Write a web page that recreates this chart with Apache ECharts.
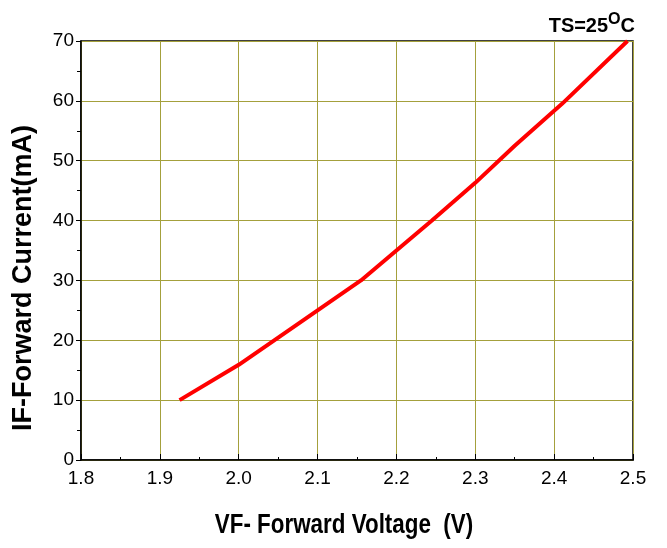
<!DOCTYPE html>
<html><head><meta charset="utf-8">
<script src="https://cdn.jsdelivr.net/npm/echarts@6/dist/echarts.min.js"></script>
<style>html,body{margin:0;padding:0;background:#fff}#c{width:667px;height:548px}</style>
</head><body><div id="c"></div>
<script>
var voltage = [1.925, 2.0, 2.045, 2.1, 2.155, 2.2, 2.245, 2.3, 2.35, 2.41, 2.493];
var current = [10, 15.9, 20, 25, 30, 35, 40, 46.3, 52.5, 59.5, 70];
var xTicks = [1.8, 2.5, 0.1];
var yTicks = [0, 70, 10];
var xTitle = 'VF- Forward Voltage  (V)';
var yTitle = 'IF-Forward Current(mA)';
var data = voltage.map(function(v,i){return [v,current[i]];});
var font = 'Liberation Sans';
var chart = echarts.init(document.getElementById('c'));
chart.setOption({
  animation:false,
  grid:{left:81,right:34,top:41,bottom:88,show:true,borderColor:'#000',borderWidth:1.5,containLabel:false,outerBoundsMode:'none'},
  graphic:[
    {type:'text',x:344,y:525,scaleX:0.8,style:{text:xTitle,font:'bold 28px "Liberation Sans"',fill:'#000',textAlign:'center',textVerticalAlign:'middle'}},
    {type:'text',x:24,y:278,rotation:Math.PI/2,style:{text:yTitle,font:'bold 27px "Liberation Sans"',fill:'#000',textAlign:'center',textVerticalAlign:'middle'}},
    {type:'text',x:635,y:22,scaleX:0.95,style:{text:'{a|TS=25}{b|O}{a|C}',textAlign:'right',textVerticalAlign:'middle',rich:{
      a:{fontFamily:font,fontWeight:'bold',fontSize:21,fill:'#000',padding:[9,0,0,0]},
      b:{fontFamily:font,fontWeight:'bold',fontSize:17,fill:'#000',padding:[0,0,6,0]}}}}
  ],
  xAxis:{type:'value',min:xTicks[0],max:xTicks[1],interval:xTicks[2],
    axisLine:{lineStyle:{color:'#000',width:1.5}},
    axisTick:{inside:true,length:6,lineStyle:{color:'#000'}},
    minorTick:{show:true,splitNumber:2,length:3,lineStyle:{color:'#000'}},
    axisLabel:{fontFamily:font,fontSize:19,color:'#000',margin:9,formatter:function(v){return v.toFixed(1);}},
    splitLine:{show:true,lineStyle:{color:'#a4a03c',width:1}}},
  yAxis:{type:'value',min:yTicks[0],max:yTicks[1],interval:yTicks[2],
    axisLine:{show:true,lineStyle:{color:'#000',width:1.5}},
    axisTick:{show:true,inside:false,length:5,lineStyle:{color:'#000'}},
    minorTick:{show:true,splitNumber:2,length:4,lineStyle:{color:'#000'}},
    axisLabel:{fontFamily:font,fontSize:19,color:'#000',margin:7},
    splitLine:{show:true,lineStyle:{color:'#a4a03c',width:1}}},
  series:[{type:'line',data:data,showSymbol:false,smooth:false,
    lineStyle:{color:'#ff0000',width:4},z:5}]
});
</script></body></html>
